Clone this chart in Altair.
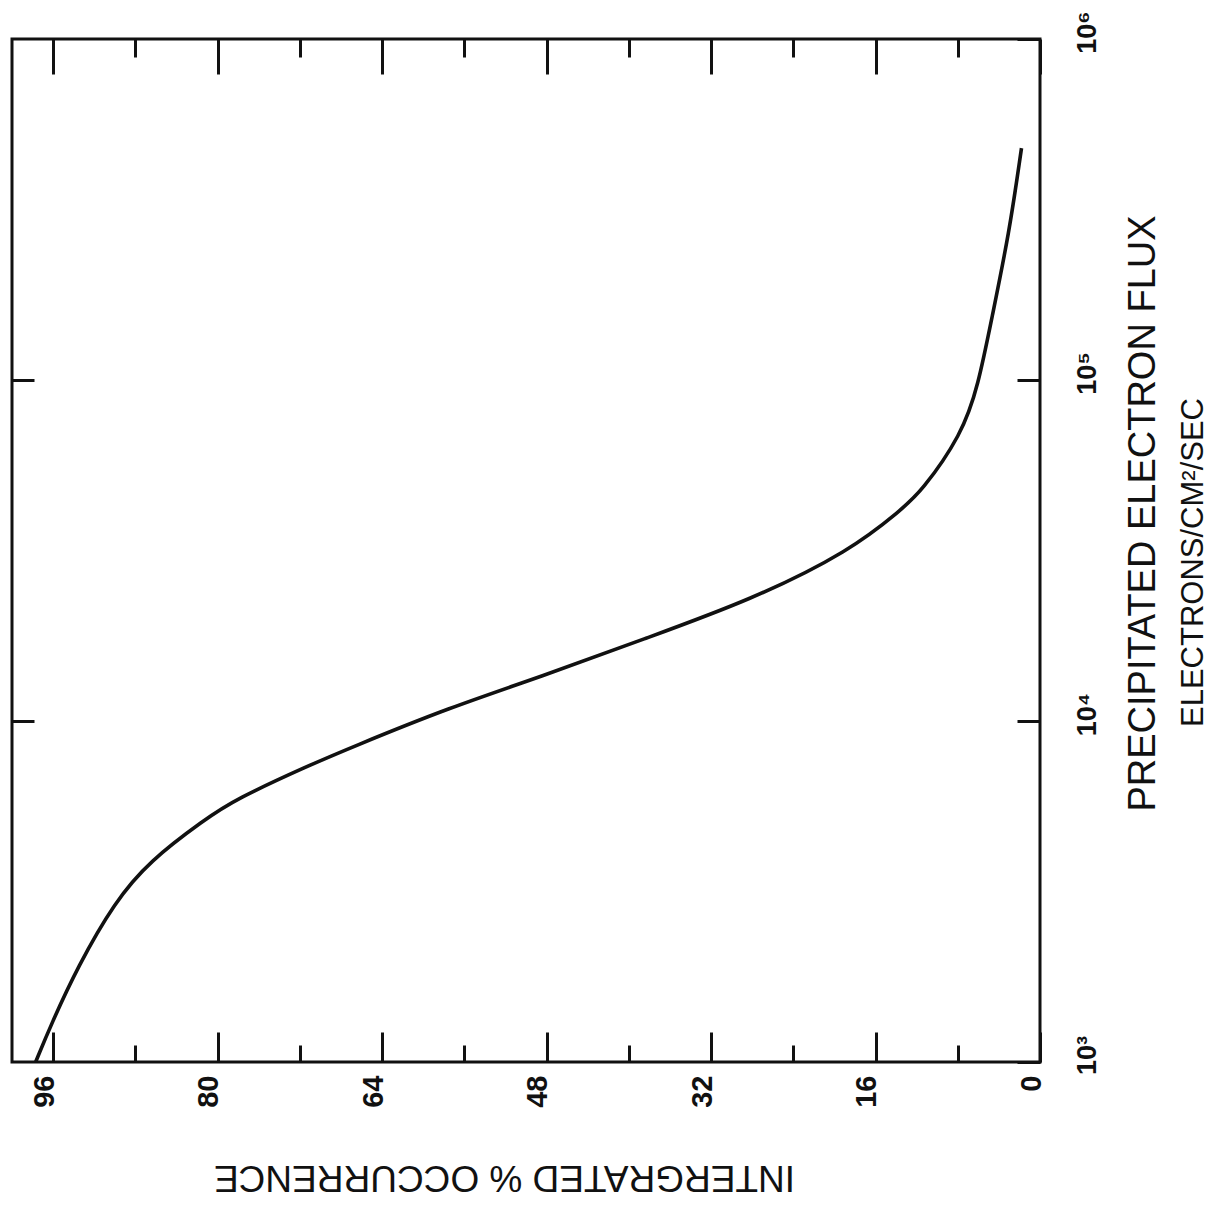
import altair as alt
import pandas as pd

# ---- data (flux in electrons/cm^2/sec, integrated % occurrence)
flux = [1000, 1288, 1905, 2951, 3890, 5129, 5888, 7413, 8318, 10965, 13490,
        17378, 22646, 31623, 41687, 46774, 69183, 96605, 151356, 269153, 478630]
occurrence = [97.7, 96.2, 93.6, 90.0, 86.6, 81.3, 78.3, 71.1, 67.2, 57.4, 48.5,
              38.6, 28.1, 18.4, 13.5, 11.6, 7.6, 6.0, 4.7, 3.0, 1.8]

pct_major_ticks = [0, 16, 32, 48, 64, 80, 96]
pct_minor_ticks = [8, 24, 40, 56, 72, 88]
flux_ticks = [1000, 10000, 100000, 1000000]
flux_tick_labels = ["10³", "10⁴", "10⁵", "10⁶"]
flux_inner_ticks = [10000, 100000]

x_title = "INTERGRATED % OCCURRENCE"
y_title = "PRECIPITATED ELECTRON FLUX"
y_subtitle = "ELECTRONS/CM²/SEC"

df = pd.DataFrame({"flux": flux, "pct": occurrence})

FONT = "Liberation Sans"
INK = "#111111"

x_scale = alt.Scale(domain=[0, 100], reverse=True, nice=False, zero=False)
y_scale = alt.Scale(type="log", domain=[1000, 1000000], nice=False)

label_expr = " : ".join(
    f"datum.value == {v} ? '{t}'" for v, t in zip(flux_ticks, flux_tick_labels)
) + " : ''"

common_axis = dict(grid=False, domain=False, tickColor=INK, tickWidth=3,
                   labelFlush=False, labelOverlap=False, labelBound=False)

# bottom axis: long ticks + labels + (upside-down) title
x_bottom_major = alt.Axis(
    orient="bottom", values=pct_major_ticks, offset=-30, tickSize=30,
    format="d", labelAngle=270, labelAlign="right", labelBaseline="middle",
    labelPadding=13, labelOffset=-9, labelFont=FONT, labelFontSize=29,
    labelFontWeight="bold", labelColor=INK,
    title=x_title, titleFont=FONT, titleFontSize=37, titleFontWeight="normal",
    titleColor=INK, titleAngle=180, titleAlign="center",
    titleBaseline="alphabetic", titleX=492, titleY=133,
    **common_axis)
x_bottom_minor = alt.Axis(orient="bottom", values=pct_minor_ticks, offset=-17,
                          tickSize=17, labels=False, title=None, **common_axis)
x_top_major = alt.Axis(orient="top", values=pct_major_ticks, offset=-35,
                       tickSize=35, labels=False, title=None, **common_axis)
x_top_minor = alt.Axis(orient="top", values=pct_minor_ticks, offset=-18,
                       tickSize=18, labels=False, title=None, **common_axis)

y_right = alt.Axis(
    orient="right", values=flux_ticks, offset=-23, tickSize=23,
    labelExpr=label_expr, labelAngle=270, labelAlign="center",
    labelBaseline="middle", labelPadding=47, labelOffset=-7,
    labelFont=FONT, labelFontSize=27, labelFontWeight="bold", labelColor=INK,
    title=y_title, titleFont=FONT, titleFontSize=38, titleFontWeight="normal",
    titleColor=INK, titleAngle=270, titleAlign="center",
    titleBaseline="middle", titleX=126, titleY=474,
    **common_axis)
y_right_sub = alt.Axis(
    orient="right", values=flux_ticks, ticks=False, labels=False,
    title=y_subtitle, titleFont=FONT, titleFontSize=31, titleFontWeight="normal",
    titleColor=INK, titleAngle=270, titleAlign="center",
    titleBaseline="middle", titleX=153, titleY=523,
    **common_axis)
y_left = alt.Axis(orient="left", values=flux_inner_ticks, offset=-22,
                  tickSize=22, labels=False, title=None, **common_axis)

base = alt.Chart(df)

curve = base.mark_line(color=INK, strokeWidth=3.6, interpolate="basis").encode(
    x=alt.X("pct:Q", scale=x_scale, axis=x_bottom_major),
    y=alt.Y("flux:Q", scale=y_scale, axis=y_right),
    order=alt.Order("flux:Q"),
)

ghost1 = base.mark_line(strokeOpacity=0).encode(
    x=alt.X("pct:Q", scale=x_scale, axis=x_bottom_minor),
    y=alt.Y("flux:Q", scale=y_scale, axis=y_right_sub),
    order=alt.Order("flux:Q"),
)
ghost2 = base.mark_line(strokeOpacity=0).encode(
    x=alt.X("pct:Q", scale=x_scale, axis=x_top_major),
    y=alt.Y("flux:Q", scale=y_scale, axis=y_left),
    order=alt.Order("flux:Q"),
)
ghost3 = base.mark_line(strokeOpacity=0).encode(
    x=alt.X("pct:Q", scale=x_scale, axis=x_top_minor),
    y=alt.Y("flux:Q", scale=y_scale, axis=None),
    order=alt.Order("flux:Q"),
)

chart = (
    alt.layer(curve, ghost1, ghost2, ghost3)
    .resolve_axis(x="independent", y="independent")
    .properties(
        width=1028, height=1023,
        autosize=alt.AutoSizeParams(type="none"),
        padding={"left": 4, "top": 31, "right": 172, "bottom": 140},
        background="white",
    )
    .configure_view(stroke=INK, strokeWidth=3)
)

chart.save("out.html", embed_options={"renderer": "svg", "actions": False})
